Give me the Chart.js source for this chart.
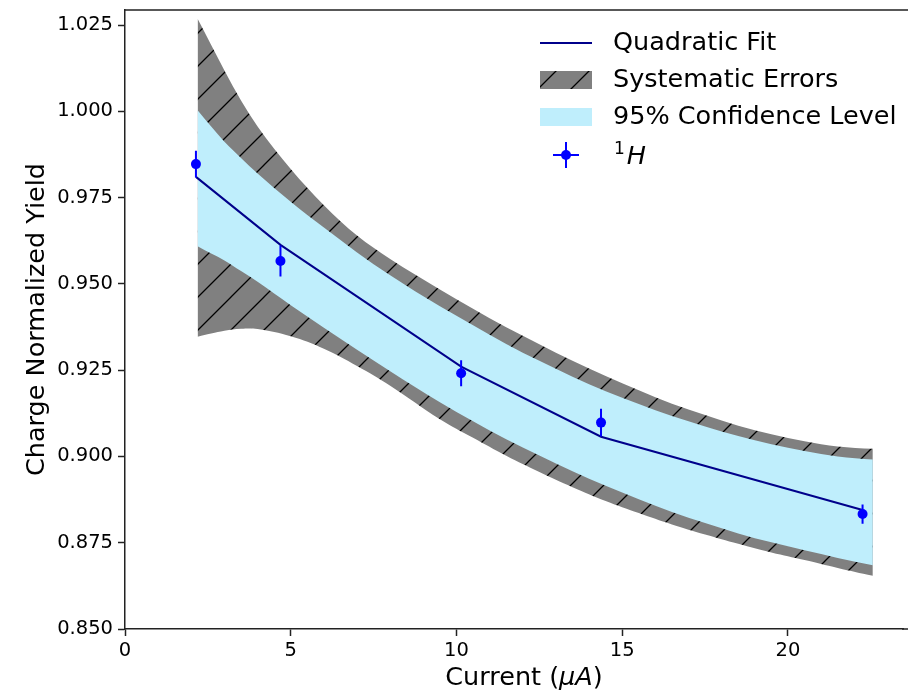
<!DOCTYPE html>
<html>
<head>
<meta charset="utf-8">
<script src="https://cdn.jsdelivr.net/npm/chart.js@4.4.1/dist/chart.umd.min.js"></script>
<style>
  html, body { margin: 0; padding: 0; background: #fff; }
  #wrap { width: 908px; height: 693px; }
</style>
</head>
<body>
<div id="wrap"><canvas id="yieldChart"></canvas></div>
<script>
// Measured yields (1H) with statistical errors
const current = [2.14, 4.69, 10.14, 14.36, 22.25];
const yieldVals = [0.9847, 0.9566, 0.9241, 0.9098, 0.8833];
const yieldErr = [0.0039, 0.0045, 0.0038, 0.0040, 0.0028];

// Quadratic fit evaluated at the measured currents
const fitVals = [0.9810, 0.9613, 0.9260, 0.9057, 0.8845];

// Bands: 95% CL and systematic envelope
const bandX = [2.19, 2.6, 3.0, 3.5, 4.0, 5.0, 6.0, 7.0, 8.0, 9.5, 10.5, 11.5,
  12.5, 13.5, 14.5, 15.5, 16.5, 17.5, 18.5, 19.5, 20.5, 21.5, 22.56];
const confUpper = [1.0003, 0.9956, 0.9912, 0.9865, 0.9820, 0.9738, 0.9663, 0.9591,
  0.9525, 0.9435, 0.9380, 0.9326, 0.9277, 0.9231, 0.9189, 0.9152, 0.9117, 0.9087,
  0.9059, 0.9035, 0.9016, 0.9000, 0.8991];
const confLower = [0.9609, 0.9588, 0.9568, 0.9537, 0.9506, 0.9438, 0.9373, 0.9309,
  0.9247, 0.9157, 0.9102, 0.9050, 0.9003, 0.8957, 0.8915, 0.8876, 0.8839, 0.8807,
  0.8777, 0.8751, 0.8728, 0.8706, 0.8685];
const sysUpper = [1.0268, 1.0192, 1.0118, 1.0031, 0.9956, 0.9833, 0.9728, 0.9640,
  0.9572, 0.9484, 0.9428, 0.9374, 0.9325, 0.9277, 0.9233, 0.9192, 0.9153, 0.9120,
  0.9089, 0.9064, 0.9044, 0.9029, 0.9022];
const sysLower = [0.9347, 0.9356, 0.9364, 0.9370, 0.9369, 0.9348, 0.9312, 0.9262,
  0.9205, 0.9108, 0.9054, 0.9002, 0.8955, 0.8911, 0.8871, 0.8836, 0.8803, 0.8774,
  0.8747, 0.8722, 0.8700, 0.8677, 0.8654];

const yTicks = [0.850, 0.875, 0.900, 0.925, 0.950, 0.975, 1.000, 1.025];
const xTicks = [0, 5, 10, 15, 20];

const fontFamily = "'DejaVu Sans', sans-serif";
const pointColor = '#0000ff';
const fitColor = '#00008b';
const confColor = '#bfeefc';
const axisColor = '#222';

// gray fill with "/" hatching
function makeHatch() {
  const P = 33;
  const c = document.createElement('canvas');
  c.width = P;
  c.height = P;
  const g = c.getContext('2d');
  g.fillStyle = '#808080';
  g.fillRect(0, 0, P, P);
  g.strokeStyle = '#000';
  g.lineWidth = 1.3;
  g.beginPath();
  for (const k of [0, 1, 2]) {
    g.moveTo(-1, k * P + 1);
    g.lineTo(P + 1, k * P - P - 1);
  }
  g.stroke();
  return g.createPattern(c, 'repeat');
}
const hatch = makeHatch();

function toPoints(xs, ys) {
  return xs.map((x, i) => ({x: x, y: ys[i]}));
}

const errorBarPlugin = {
  id: 'errorBars',
  afterDatasetsDraw(chart) {
    const ctx = chart.ctx;
    const y = chart.scales.y;
    const meta = chart.getDatasetMeta(0);
    ctx.save();
    ctx.strokeStyle = pointColor;
    ctx.lineWidth = 2;
    ctx.beginPath();
    meta.data.forEach((pt, i) => {
      ctx.moveTo(pt.x, y.getPixelForValue(yieldVals[i] + yieldErr[i]));
      ctx.lineTo(pt.x, y.getPixelForValue(yieldVals[i] - yieldErr[i]));
    });
    ctx.stroke();
    ctx.restore();
  }
};

// top spine, axis line run-out to the edge, x axis title with italic units
const framePlugin = {
  id: 'frame',
  afterDraw(chart) {
    const {ctx, chartArea} = chart;
    ctx.save();
    ctx.strokeStyle = axisColor;
    ctx.lineWidth = 1.5;
    ctx.beginPath();
    ctx.moveTo(chartArea.left - 0.75, chartArea.top);
    ctx.lineTo(chart.width, chartArea.top);
    ctx.moveTo(chartArea.right - 1, chartArea.bottom);
    ctx.lineTo(chart.width, chartArea.bottom);
    ctx.stroke();

    const parts = [
      {t: 'Current (', f: `25.5px ${fontFamily}`},
      {t: 'μA', f: `italic 25.5px ${fontFamily}`},
      {t: ')', f: `25.5px ${fontFamily}`}
    ];
    let w = 0;
    parts.forEach(p => { ctx.font = p.f; p.w = ctx.measureText(p.t).width; w += p.w; });
    let x = (chartArea.left + chartArea.right) / 2 + 10 - w / 2;
    ctx.fillStyle = '#000';
    ctx.textBaseline = 'alphabetic';
    parts.forEach(p => { ctx.font = p.f; ctx.fillText(p.t, x, 685); x += p.w; });
    ctx.restore();
  }
};

const legendPlugin = {
  id: 'bandLegend',
  afterDraw(chart) {
    const {ctx, chartArea} = chart;
    const ds = chart.data.datasets;
    const x0 = chartArea.right - 363;
    const bw = 52;
    const tx = chartArea.right - 290;
    const rows = [33, 70, 107, 145].map(d => chartArea.top + d);
    ctx.save();

    ctx.strokeStyle = fitColor;
    ctx.lineWidth = 2;
    ctx.beginPath();
    ctx.moveTo(x0, rows[0]);
    ctx.lineTo(x0 + bw, rows[0]);
    ctx.stroke();

    ctx.fillStyle = hatch;
    ctx.fillRect(x0, rows[1] - 9, bw, 18);
    ctx.fillStyle = confColor;
    ctx.fillRect(x0, rows[2] - 9, bw, 18);

    const cx = x0 + bw / 2;
    ctx.strokeStyle = pointColor;
    ctx.lineWidth = 2;
    ctx.beginPath();
    ctx.moveTo(cx - 13, rows[3]);
    ctx.lineTo(cx + 13, rows[3]);
    ctx.moveTo(cx, rows[3] - 13);
    ctx.lineTo(cx, rows[3] + 13);
    ctx.stroke();
    ctx.fillStyle = pointColor;
    ctx.beginPath();
    ctx.arc(cx, rows[3], 5, 0, Math.PI * 2);
    ctx.fill();

    ctx.fillStyle = '#000';
    ctx.textBaseline = 'middle';
    ctx.font = `25.5px ${fontFamily}`;
    ctx.fillText(ds[1].label, tx, rows[0]);
    ctx.fillText(ds[4].label, tx, rows[1]);
    ctx.fillText(ds[2].label, tx, rows[2]);

    // 1H with superscript mass number
    ctx.textBaseline = 'alphabetic';
    ctx.font = `17px ${fontFamily}`;
    ctx.fillText('1', tx + 1, rows[3] - 1);
    const sw = ctx.measureText('1').width;
    ctx.font = `italic 25.5px ${fontFamily}`;
    ctx.fillText('H', tx + sw + 3, rows[3] + 9);
    ctx.restore();
  }
};

new Chart(document.getElementById('yieldChart'), {
  type: 'line',
  data: {
    datasets: [
      {
        label: '1H',
        data: toPoints(current, yieldVals),
        showLine: false,
        pointRadius: 5,
        pointBackgroundColor: pointColor,
        pointBorderWidth: 0
      },
      {
        label: 'Quadratic Fit',
        data: toPoints(current, fitVals),
        borderColor: fitColor,
        borderWidth: 2,
        pointRadius: 0,
        fill: false
      },
      {
        label: '95% Confidence Level',
        data: toPoints(bandX, confUpper),
        borderWidth: 0,
        borderColor: 'rgba(0,0,0,0)',
        backgroundColor: confColor,
        pointRadius: 0,
        cubicInterpolationMode: 'monotone',
        fill: '+1'
      },
      {
        label: 'conf-lower',
        data: toPoints(bandX, confLower),
        borderWidth: 0,
        borderColor: 'rgba(0,0,0,0)',
        pointRadius: 0,
        cubicInterpolationMode: 'monotone',
        fill: false
      },
      {
        label: 'Systematic Errors',
        data: toPoints(bandX, sysUpper),
        borderWidth: 0,
        borderColor: 'rgba(0,0,0,0)',
        backgroundColor: hatch,
        pointRadius: 0,
        cubicInterpolationMode: 'monotone',
        fill: '+1'
      },
      {
        label: 'sys-lower',
        data: toPoints(bandX, sysLower),
        borderWidth: 0,
        borderColor: 'rgba(0,0,0,0)',
        pointRadius: 0,
        tension: 0.4,
        fill: false
      }
    ]
  },
  options: {
    responsive: true,
    maintainAspectRatio: false,
    animation: false,
    layout: {padding: {top: 10, right: 1, left: 0, bottom: 0}},
    plugins: {
      legend: {display: false},
      tooltip: {enabled: false}
    },
    scales: {
      x: {
        type: 'linear',
        min: 0,
        max: 23.47,
        afterFit: (scale) => {
          scale.height = 64;
          scale.paddingLeft = 0;
          scale.paddingRight = 0;
        },
        afterBuildTicks: (scale) => { scale.ticks = xTicks.map(v => ({value: v})); },
        border: {display: true, color: axisColor, width: 1.5},
        grid: {drawOnChartArea: false, drawTicks: true, tickLength: 7, tickColor: axisColor, tickWidth: 1.5},
        ticks: {
          color: '#000',
          padding: 3,
          maxRotation: 0,
          font: {family: fontFamily, size: 19.5},
          callback: (v) => String(v)
        }
      },
      y: {
        min: 0.85,
        max: 1.02935,
        afterFit: (scale) => {
          scale.width = 125;
          scale.paddingTop = 0;
          scale.paddingBottom = 0;
        },
        afterBuildTicks: (scale) => { scale.ticks = yTicks.map(v => ({value: v})); },
        border: {display: true, color: axisColor, width: 1.5},
        grid: {drawOnChartArea: false, drawTicks: true, tickLength: 7, tickColor: axisColor, tickWidth: 1.5},
        title: {
          display: true,
          text: 'Charge Normalized Yield',
          color: '#000',
          font: {family: fontFamily, size: 25.5},
          padding: {top: 22, bottom: 0}
        },
        ticks: {
          color: '#000',
          padding: 5,
          font: {family: fontFamily, size: 19.5},
          callback: (v) => Number(v).toFixed(3)
        }
      }
    }
  },
  plugins: [errorBarPlugin, framePlugin, legendPlugin]
});
</script>
</body>
</html>
